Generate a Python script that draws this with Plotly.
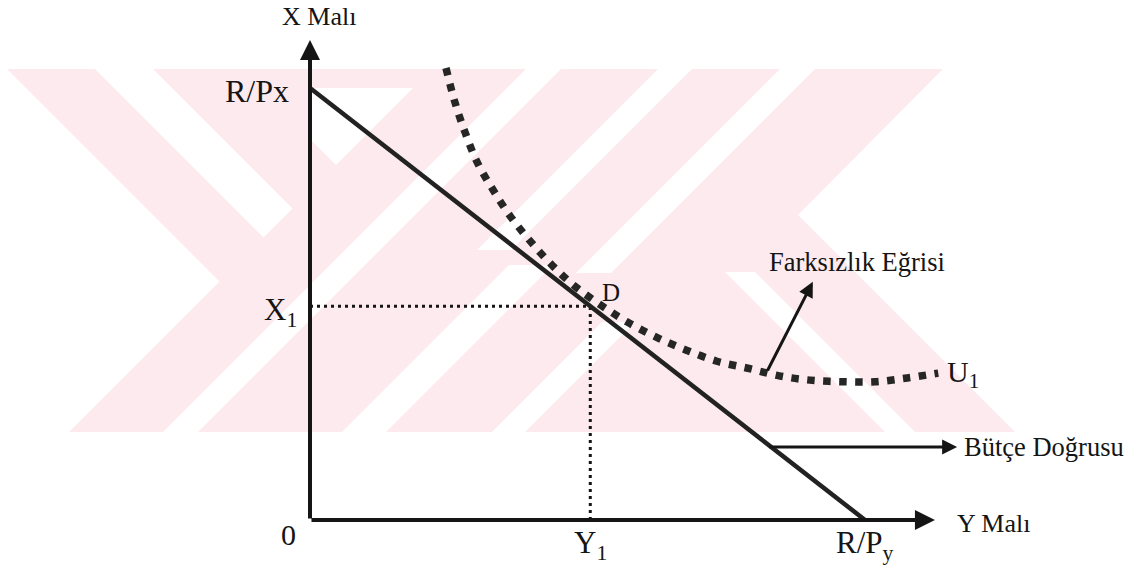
import plotly.graph_objects as go

# ---------------- data ----------------
# horizontal axis = "Y Malı", vertical axis = "X Malı"
budget_h = [0, 10]          # R/Py on the horizontal axis
budget_v = [8, 0]           # R/Px on the vertical axis
curve_h = [2.45, 2.61, 2.79, 3.01, 3.30, 3.62, 3.98, 4.36, 4.77, 5.24, 5.71,
           6.23, 6.77, 7.33, 7.89, 8.45, 9.01, 9.60, 10.18, 10.76, 11.32]
curve_v = [8.37, 7.74, 7.19, 6.63, 6.11, 5.61, 5.15, 4.72, 4.33, 3.98, 3.67,
           3.39, 3.15, 2.94, 2.81, 2.67, 2.59, 2.56, 2.56, 2.63, 2.72]
opt_h = 5.05                # Y1
opt_v = 3.96                # X1
axis_end_h = 11.26
axis_end_v = 8.89
curve_arrow_tail = (8.23, 2.74)
curve_arrow_tip = (9.06, 4.41)
budget_arrow_tail = (8.25, 1.35)
budget_arrow_tip = (11.66, 1.35)

W, H = 1142, 565
INK = "#151515"
SERIF = "Liberation Serif"

fig = go.Figure()

# guide lines (dotted)
fig.add_trace(go.Scatter(x=[0, opt_h], y=[opt_v, opt_v], mode="lines",
                         line=dict(color=INK, width=3, dash="3px,4px"), hoverinfo="skip"))
fig.add_trace(go.Scatter(x=[opt_h, opt_h], y=[0, opt_v], mode="lines",
                         line=dict(color=INK, width=3, dash="3px,4px"), hoverinfo="skip"))
# budget line
fig.add_trace(go.Scatter(x=budget_h, y=budget_v, mode="lines",
                         line=dict(color="#222222", width=4.5), hoverinfo="skip"))
# indifference curve (square dots)
fig.add_trace(go.Scatter(x=curve_h, y=curve_v, mode="lines",
                         line=dict(color="#262626", width=7.5, dash="7.5px,8.5px", shape="spline"),
                         hoverinfo="skip"))

ann = []
def arrow(tail, tip, width=3.5):
    ann.append(dict(x=tip[0], y=tip[1], ax=tail[0], ay=tail[1], xref="x", yref="y",
                    axref="x", ayref="y", showarrow=True, arrowhead=2, arrowsize=1,
                    arrowwidth=width, arrowcolor=INK, text="", standoff=0, startstandoff=0))

arrow((0, 0), (0, axis_end_v), 4)
arrow((0, 0), (axis_end_h, 0), 4)
arrow(curve_arrow_tail, curve_arrow_tip, 3)
arrow(budget_arrow_tail, budget_arrow_tip, 3)

def label(text, x, y, xanchor="center", xshift=0, yshift=0, size=26):
    ann.append(dict(text=text, x=x, y=y, xref="x", yref="y", showarrow=False,
                    xanchor=xanchor, yanchor="middle", xshift=xshift, yshift=yshift,
                    font=dict(family=SERIF, size=size, color=INK)))

label("X Malı", 0, axis_end_v, xshift=9, yshift=23, size=26)
label("R/Px", 0, budget_v[0], xanchor="right", xshift=-19, yshift=-3, size=32)
label("X<sub>1</sub>", 0, opt_v, xanchor="right", xshift=-11, yshift=-6, size=31)
label("0", 0, 0, xanchor="right", xshift=-12, yshift=-14, size=30)
label("Y<sub>1</sub>", opt_h, 0, yshift=-25, size=31)
label("R/P<sub>y</sub>", budget_h[1], 0, yshift=-25, size=31)
label("Y Malı", axis_end_h, 0, xanchor="left", xshift=20, yshift=-3, size=26)
label("D", opt_h, opt_v, xanchor="left", xshift=10, yshift=14, size=25)
label("Farksızlık Eğrisi", curve_arrow_tip[0], curve_arrow_tip[1], xshift=44, yshift=20, size=26.5)
label("U<sub>1</sub>", curve_h[-1], curve_v[-1], xanchor="left", xshift=7, yshift=-1, size=30)
label("Bütçe Doğrusu", budget_arrow_tip[0], budget_arrow_tip[1], xanchor="left", xshift=5, yshift=0, size=26.5)

# ---------------- watermark (decoration, pixel positions -> paper) ----------------
PINK = "#fdeaee"
def poly(pts, color):
    p = "M " + " L ".join(f"{x / W:.5f},{1 - y / H:.5f}" for x, y in pts) + " Z"
    return dict(type="path", path=p, xref="paper", yref="paper", fillcolor=color,
                line=dict(width=0), layer="below")

shapes = [poly([(0, 69), (943, 69), (798, 215), (1015, 432), (0, 432)], PINK)]
whites = [
    [(0, 69), (7, 69), (219.5, 281.5), (69, 432), (0, 432)],
    [(95, 69), (153, 69), (292.5, 208.5), (263.5, 237.5)],
    [(312, 88), (413, 88), (336, 165), (312, 141)],
    [(526, 69), (561, 69), (198, 432), (163, 432)],
    [(658, 69), (692, 69), (511, 250), (477, 250)],
    [(780, 69), (815, 69), (611, 273), (576, 273)],
    [(342, 432), (386, 432), (553, 265), (509, 265)],
    [(492, 432), (525, 432), (635, 322), (602, 322)],
    [(725, 272), (755, 272), (915, 432), (885, 432)],
]
for w in whites:
    shapes.append(poly(w, "white"))

fig.update_layout(
    width=W, height=H, margin=dict(l=0, r=0, t=0, b=0),
    paper_bgcolor="white", plot_bgcolor="white", showlegend=False,
    xaxis=dict(range=[-310 / 55.5, (W - 310) / 55.5], visible=False, fixedrange=True),
    yaxis=dict(range=[-(H - 520) / 54, 520 / 54], visible=False, fixedrange=True),
    annotations=ann, shapes=shapes,
)

fig.write_html("out.html", config={"displayModeBar": False},
               post_script="document.body.style.margin='0px';")
